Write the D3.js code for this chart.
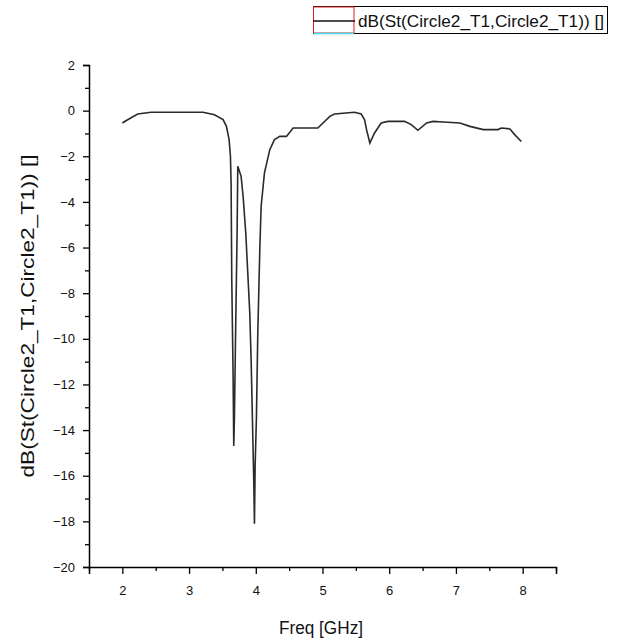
<!DOCTYPE html>
<html lang="en">
<head>
<meta charset="utf-8">
<script src="https://d3js.org/d3.v7.js"></script>
<style>
  body { margin: 0; background: #fff; }
  text { font-family: Arial, "Liberation Sans", sans-serif; }
</style>
</head>
<body>
<div id="my_dataviz"></div>
<script>

// readings taken off the reference curve
const freq = [2.00, 2.06, 2.23, 2.43, 3.21, 3.38, 3.51, 3.56, 3.60, 3.62, 3.63, 3.64, 3.66, 3.67,
  3.68, 3.70, 3.72, 3.73, 3.78, 3.81, 3.85, 3.88, 3.91, 3.93, 3.95, 3.97, 3.98, 3.99, 4.01, 4.03,
  4.06, 4.08, 4.13, 4.21, 4.28, 4.36, 4.46, 4.56, 4.93, 5.11, 5.18, 5.48, 5.58, 5.63, 5.66, 5.71,
  5.78, 5.88, 5.98, 6.23, 6.33, 6.43, 6.56, 6.66, 6.81, 7.06, 7.21, 7.41, 7.63, 7.68, 7.81, 7.88, 7.98];
const dB = [-0.54, -0.43, -0.15, -0.07, -0.07, -0.18, -0.39, -0.69, -1.27, -2.0, -3.17, -7.4, -11.65, -14.7,
  -13.4, -9.2, -5.35, -2.44, -2.88, -3.76, -5.37, -7.12, -8.88, -10.9, -13.55, -16.3, -18.1, -15.6, -13.4, -9.75,
  -6.1, -4.2, -2.73, -1.71, -1.27, -1.13, -1.13, -0.76, -0.76, -0.25, -0.15, -0.07, -0.15, -0.39, -0.83, -1.42,
  -0.98, -0.54, -0.47, -0.47, -0.61, -0.86, -0.54, -0.47, -0.50, -0.54, -0.69, -0.83, -0.83, -0.76, -0.80, -1.05, -1.35];

const xMajor = [2, 3, 4, 5, 6, 7, 8];
const xMinor = [1.5, 2.5, 3.5, 4.5, 5.5, 6.5, 7.5, 8.5];
const yMajor = [2, 0, -2, -4, -6, -8, -10, -12, -14, -16, -18, -20];
const yMinor = [1, -1, -3, -5, -7, -9, -11, -13, -15, -17, -19];

const seriesName = "dB(St(Circle2_T1,Circle2_T1)) []";
const xTitle = "Freq [GHz]";

const data = freq.map((f, i) => ({f: f, v: dB[i]}));

const margin = {top: 65, right: 64, bottom: 75, left: 89},
    width = 620 - margin.left - margin.right,
    height = 642 - margin.top - margin.bottom;

const root = d3.select("#my_dataviz")
  .append("svg")
    .attr("width", 620)
    .attr("height", 642);

const svg = root.append("g")
    .attr("transform", `translate(${margin.left}, ${margin.top})`);

const x = d3.scaleLinear().domain([1.5, 8.5]).range([0, width]);
const y = d3.scaleLinear().domain([-20, 2]).range([height, 0]);

// X axis, major + minor
svg.append("g")
  .attr("transform", "translate(0," + height + ")")
  .call(d3.axisBottom(x).tickValues(xMajor).tickSize(7).tickPadding(12).tickFormat(d3.format("d")));
svg.append("g")
  .attr("transform", "translate(0," + height + ")")
  .call(d3.axisBottom(x).tickValues(xMinor).tickSize(4).tickFormat(""))
  .select(".domain").remove();

// Y axis, major + minor
svg.append("g")
  .call(d3.axisLeft(y).tickValues(yMajor).tickSize(6).tickPadding(8).tickFormat(d3.format("d")));
svg.append("g")
  .call(d3.axisLeft(y).tickValues(yMinor).tickSize(4).tickFormat(""))
  .select(".domain").remove();

svg.selectAll(".domain").attr("stroke", "#000").attr("stroke-width", 1.5);
svg.selectAll(".tick line").attr("stroke", "#000").attr("stroke-width", 1.3);
svg.selectAll(".tick text")
  .attr("fill", "#111")
  .style("font-size", "13px")
  .style("font-family", "Arial, 'Liberation Sans', sans-serif");

// the curve
svg.append("path")
  .datum(data)
  .attr("d", d3.line().x(d => x(d.f)).y(d => y(d.v)))
  .attr("fill", "none")
  .attr("stroke", "#2a2a2a")
  .attr("stroke-width", 1.6);

// axis titles
root.append("text")
  .attr("x", 321)
  .attr("y", 634)
  .attr("text-anchor", "middle")
  .attr("textLength", 84)
  .attr("lengthAdjust", "spacingAndGlyphs")
  .style("font-size", "18px")
  .attr("fill", "#111")
  .text(xTitle);

root.append("text")
  .attr("transform", "translate(34,316) rotate(-90)")
  .attr("text-anchor", "middle")
  .attr("textLength", 323)
  .attr("lengthAdjust", "spacingAndGlyphs")
  .style("font-size", "19px")
  .attr("fill", "#111")
  .text(seriesName);

// legend
const lg = root.append("g");
lg.append("rect")
  .attr("x", 313.5).attr("y", 6.5).attr("width", 294).attr("height", 27)
  .attr("fill", "#fff").attr("stroke", "#000").attr("stroke-width", 1);
lg.append("rect")
  .attr("x", 313.5).attr("y", 7).attr("width", 40.5).attr("height", 26)
  .attr("fill", "none").attr("stroke", "#e02020").attr("stroke-width", 1);
lg.append("line")
  .attr("x1", 314).attr("x2", 354).attr("y1", 33.5).attr("y2", 33.5)
  .attr("stroke", "#3ee0f0").attr("stroke-width", 1.5);
lg.append("line")
  .attr("x1", 313).attr("x2", 355).attr("y1", 21).attr("y2", 21)
  .attr("stroke", "#111").attr("stroke-width", 1.4);
lg.append("text")
  .attr("x", 358)
  .attr("y", 27)
  .attr("textLength", 246)
  .attr("lengthAdjust", "spacingAndGlyphs")
  .style("font-size", "17px")
  .attr("fill", "#111")
  .text(seriesName);

</script>
</body>
</html>
